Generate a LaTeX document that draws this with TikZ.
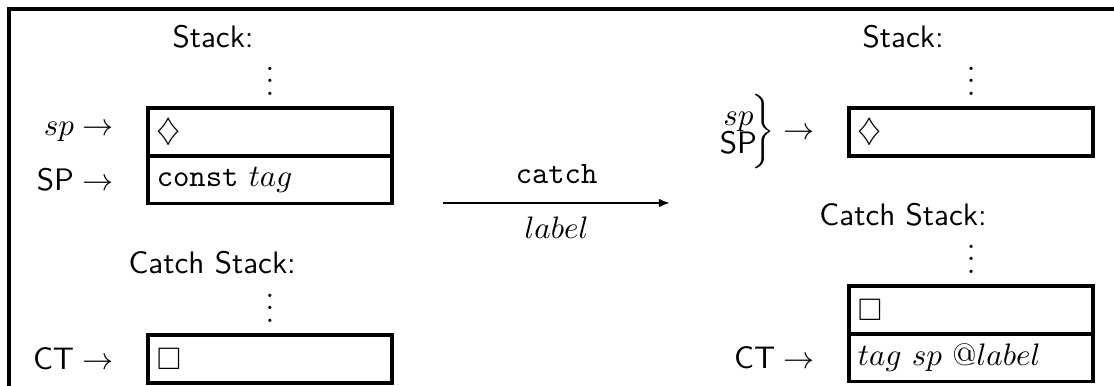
\documentclass[tikz,border=0pt]{standalone}
\usepackage{amsmath,amssymb}
\usepackage{tikz}
\usetikzlibrary{arrows.meta,positioning}

\begin{document}
\begin{tikzpicture}[>={Latex[length=3.6pt,width=2.8pt]},
  cell/.style={draw,line width=1.2pt,minimum height=0.54cm,text width=2.56cm,
    inner xsep=0.1cm,inner ysep=0pt,align=left,outer sep=0pt},
  ptr/.style={left=0.38cm of #1,inner sep=0pt},
  dts/.style={above=0.14cm of #1,inner sep=0pt,text height=8.5pt,text depth=0pt},
  lab/.style={font=\sffamily}]
  \useasboundingbox (0,0) rectangle (12.6,-4.355);
  % frame (open to the right and below)
  \draw[line width=1.2pt] (0.102,-4.4) -- (0.102,-0.102) -- (12.65,-0.102);
  % ---------------- before ----------------
  \begin{scope}
    \node[lab] (stk) at (2.41,-0.41) {Stack:};
    \node[cell,anchor=north west] (s1) at (1.674,-1.222) {$\diamondsuit$};
    \node[cell,below=0pt of s1] (s2) {\texttt{const} $tag$};
    \node[dts=s1] (sdots) {$\vdots$};
    \node[ptr=s1] (sp) {$sp\rightarrow$};
    \node[ptr=s2] (SP) {$\textsf{SP}\rightarrow$};
    \node[lab] (cstk) at (2.40,-2.975) {Catch Stack:};
    \node[cell,anchor=north west] (c1) at (1.674,-3.79) {$\Box$};
    \node[dts=c1] (cdots) {$\vdots$};
    \node[ptr=c1] (CT) {$\textsf{CT}\rightarrow$};
  \end{scope}
  % ---------------- transition ----------------
  \coordinate (a0) at (5.011,-2.296);
  \coordinate (a1) at (7.579,-2.296);
  \draw[->,line width=0.9pt] (a0) -- (a1)
    node[midway,above=2.5pt] (ins) {\texttt{catch}}
    node[midway,below=0.7pt] (arg) {$label$};
  % ---------------- after ----------------
  \begin{scope}[xshift=7.93cm]
    \node[lab] (rstk) at (2.285,-0.41) {Stack:};
    \node[cell,anchor=north west] (rs1) at (1.674,-1.222) {$\diamondsuit$};
    \node[dts=rs1] (rsdots) {$\vdots$};
    \node[ptr=rs1] (rsp)
      {$\begin{array}{@{}c@{}}sp\\[-3pt]\textsf{SP}\end{array}\!\bigg\}\rightarrow$};
    \node[lab] (rcstk) at (2.285,-2.43) {Catch Stack:};
    \node[cell,anchor=north west] (rc1) at (1.674,-3.235) {$\Box$};
    \node[cell,below=0pt of rc1] (rc2) {$tag\ sp\ @label$};
    \node[dts=rc1] (rcdots) {$\vdots$};
    \node[ptr=rc2] (rCT) {$\textsf{CT}\rightarrow$};
  \end{scope}
\end{tikzpicture}
\end{document}
